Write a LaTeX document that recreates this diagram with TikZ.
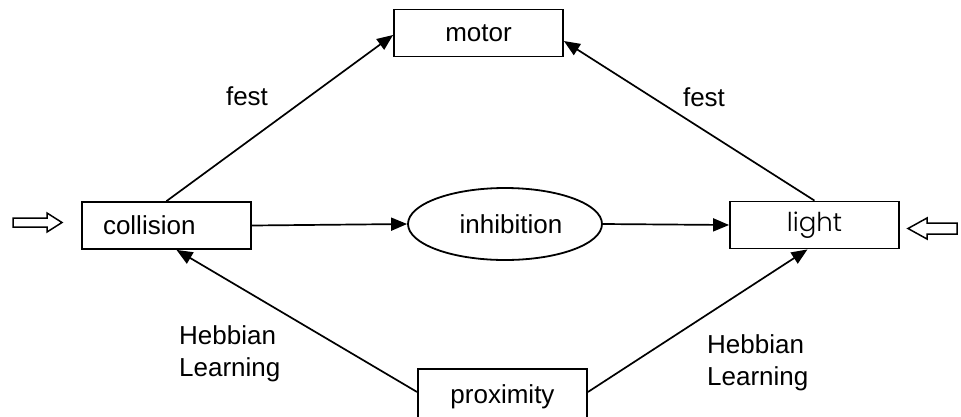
\documentclass[tikz,border=0pt]{standalone}
\usepackage{fontspec}
\setmainfont{Liberation Sans}
\newfontfamily\lightfont{Poppins Light}
\usetikzlibrary{arrows.meta,shapes.geometric}
\begin{document}
\begin{tikzpicture}[x=1pt,y=-1pt,
  every node/.style={font=\fontsize{26}{32}\selectfont},
  box/.style={draw,line width=1.8pt,inner sep=0pt,minimum height=47pt},
  ell/.style={draw,ellipse,line width=1.8pt,inner sep=0pt,minimum width=194pt,minimum height=72pt},
  conn/.style={line width=1.7pt,-{Triangle[length=16pt,width=13pt]}},
  lbl/.style={inner sep=0pt,align=left},
  hollow/.style={draw,line width=1.5pt,fill=white}]
\useasboundingbox (0,0) rectangle (961,416);
% nodes
\node[box,minimum width=169pt] (motor) at (478.5,33) {motor};
\node[box,text width=127pt,inner xsep=21pt,align=left] (coll) at (166.5,225.5) {collision};
\node[box,minimum width=169pt] (light) at (814.5,225) {\lightfont light};
\node[ell] (inh) at (505,224) {\hspace{12pt}inhibition};
\node[box,minimum width=169pt,minimum height=56pt] (prox) at (502.5,397) {proximity};
% labels
\node[lbl] (f1) at (247,96) {fest};
\node[lbl] (f2) at (704,97) {fest};
\node[lbl,anchor=north west] (h1) at (179,325) {Hebbian\\Learning};
\node[lbl,anchor=north west] (h2) at (707,334) {Hebbian\\Learning};
% connectors
\draw[conn] (coll.north) -- ([yshift=-2pt]motor.west);
\draw[conn] (light.north) -- ([yshift=-8pt]motor.east);
\draw[conn] (coll.east) -- (inh.west);
\draw[conn] (inh.east) -- (light.west);
\draw[conn] ([yshift=5pt]prox.west) -- ([xshift=10pt]coll.south);
\draw[conn] ([yshift=5pt]prox.east) -- ([xshift=-7pt]light.south);
% hollow input arrows
\draw[hollow] (13,218) -- (47,218) -- (47,213) -- (62,222.5) -- (47,232) -- (47,227) -- (13,227) -- cycle;
\draw[hollow] (957,223) -- (927,223) -- (927,218) -- (908,228.5) -- (927,239) -- (927,234) -- (957,234) -- cycle;
\end{tikzpicture}
\end{document}
